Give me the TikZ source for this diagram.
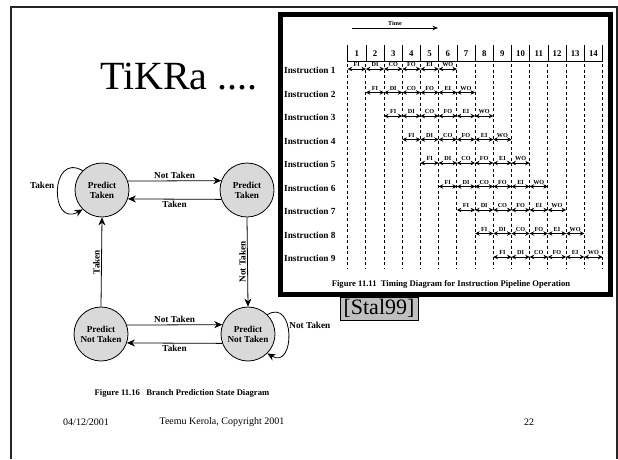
\documentclass[tikz,border=0pt]{standalone}
\usepackage{fontspec}
\setmainfont{Liberation Serif}
\usetikzlibrary{arrows.meta, calc}

\begin{document}
\begin{tikzpicture}[
    x=1pt, y=-1pt,
    >={Stealth[length=8pt, width=7pt]},
    predict/.style={circle, draw=black, thick, fill=gray!30, minimum size=54pt, inner sep=0pt, align=center, font=\bfseries\fontsize{9.2}{10}\selectfont},
    edgelabel/.style={font=\bfseries\fontsize{9.2}{10}\selectfont, inner sep=1.5pt},
    rowlabel/.style={anchor=west, font=\bfseries\fontsize{9.3}{10}\selectfont, inner sep=0pt},
    clock/.style={font=\bfseries\fontsize{8.8}{9.5}\selectfont, inner sep=0pt},
    stage/.style={font=\bfseries\fontsize{6.2}{7}\selectfont, inner sep=0.5pt},
    figcaption/.style={font=\bfseries\fontsize{8.6}{9}\selectfont, inner sep=0pt},
    footer/.style={font=\fontsize{10}{12}\selectfont, inner sep=0pt},
    stagearrow/.style={{Stealth[length=4.5pt, width=4.5pt]}-{Stealth[length=4.5pt, width=4.5pt]}, line width=1pt}
]
\useasboundingbox (0,0) rectangle (618,459);

% Slide frame
\draw[line width=2pt, black!85] (10.5,459) -- (10.5,7) -- (617,7) -- (617,459);

% Title
\node[font=\fontsize{40}{42}\selectfont, inner sep=0pt] (title) at (179,77) {TiKRa ....};

% Timing diagram box
\draw[line width=4.5pt, fill=white] (280.5,14.5) rectangle (610.5,294.5);

% Time arrow
\coordinate (tstart) at (352,28);
\coordinate (tend) at (438,28);
\draw[->, line width=0.9pt, >={Stealth[length=5.5pt, width=4.5pt]}] (tstart) -- (tend) node[midway, above=1.5pt, stage] (time) {Time};

% Clock cycles
\foreach \i in {1,...,14} {
  \node[clock] (cyc\i) at ({347.7+18.2*(\i-1)+9.1}, 54) {\i};
}
\foreach \i in {1,...,15} {
  \draw[line width=0.8pt] ({347.7+18.2*(\i-1)}, 45) -- ({347.7+18.2*(\i-1)}, 61.5);
  \draw[line width=1pt, dash pattern=on 3pt off 2.5pt] ({347.7+18.2*(\i-1)}, 64) -- ({347.7+18.2*(\i-1)}, 268);
}
\draw[line width=0.8pt] (347.7,61.5) -- (602.5,61.5);

% Instruction rows
\foreach \k in {1,...,9} {
  \pgfmathsetmacro\yk{70.5+23.5*(\k-1)}
  \node[rowlabel] (instr\k) at (284, \yk) {Instruction \k};
  \foreach \s [count=\j from 0] in {FI,DI,CO,FO,EI,WO} {
    \pgfmathsetmacro\xa{347.7+18.2*(\k+\j-1)}
    \pgfmathsetmacro\xb{\xa+18.2}
    \draw[stagearrow] (\xa, \yk-1.5) -- (\xb, \yk-1.5) node[midway, above=1.2pt, stage] (st\k-\j) {\s};
  }
}

\node[figcaption] (fig1111) at (451,284) {Figure 11.11\ \ Timing Diagram for Instruction Pipeline Operation};

% Source tag
\node[draw, thin, fill=gray!50, minimum width=78pt, minimum height=23pt, inner sep=0pt, font=\fontsize{22}{24}\selectfont] (stal) at (379,308.5) {[Stal99]};

% State diagram
\node[predict] (pt1) at (102,190) {Predict\\Taken};
\node[predict] (pt2) at (247,190) {Predict\\Taken};
\node[predict] (pn1) at (101,334) {Predict\\Not Taken};
\node[predict] (pn2) at (248,334) {Predict\\Not Taken};

\draw[->, thick] (pt1.19.5) -- (pt2.160.5) node[midway, above, edgelabel] {Not Taken};
\draw[->, thick] (pt2.-160.5) -- (pt1.-19.5) node[midway, below, edgelabel] {Taken};
\draw[->, thick] (pn1.19.5) -- (pn2.160.5) node[midway, above, edgelabel] {Not Taken};
\draw[->, thick] (pn2.-160.5) -- (pn1.-19.5) node[midway, below, edgelabel] {Taken};
\draw[->, thick] (pn1.north) -- (pt1.south) node[midway, anchor=south, rotate=90, edgelabel] {Taken};
\draw[->, thick] (pt2.south) -- (pn2.north) node[midway, anchor=south, rotate=90, edgelabel] {Not Taken};

% Self loops
\draw[->, thick] (pt1.135) .. controls +(-33,-19) and +(-33,19) .. (pt1.225) node[pos=0.45, left=2pt, edgelabel] {Taken};
\draw[->, thick] (pn2.45) .. controls +(28,-17) and +(28,17) .. (pn2.-45) node[pos=0.4, right, edgelabel] {Not Taken};

\node[figcaption] (fig1116) at (182,393) {Figure 11.16\ \ \ Branch Prediction State Diagram};

% Footer
\node[footer] (date) at (86,422) {04/12/2001};
\node[footer] (copy) at (222,422) {Teemu Kerola, Copyright 2001};
\node[footer] (page) at (529,422) {22};
\end{tikzpicture}
\end{document}
